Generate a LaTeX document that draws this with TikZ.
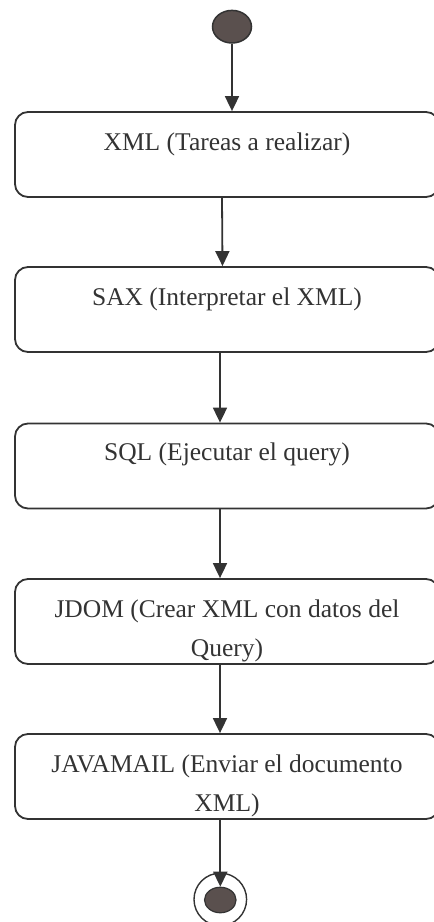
\documentclass[tikz,border=0pt]{standalone}
\usepackage{fontspec}
\setmainfont{Liberation Serif}
\usetikzlibrary{arrows.meta,shapes.geometric,calc}

\definecolor{ink}{HTML}{333333}
\definecolor{dot}{HTML}{5A504E}

\tikzset{
  activity/.style={draw=ink, line width=1.8pt, rounded corners=13pt,
    minimum width=424pt, minimum height=85pt, inner sep=0pt},
  caption/.style={text=ink, inner sep=0pt, anchor=base,
    font=\fontsize{25.5}{38.5}\selectfont},
  flow/.style={draw=ink, line width=1.8pt,
    -{Triangle[width=14pt,length=15pt]}},
  initial/.style={ellipse, draw=ink, fill=dot, line width=1.5pt,
    minimum width=39pt, minimum height=32.6pt, inner sep=0pt},
  finalring/.style={circle, draw=ink, line width=1.4pt,
    minimum size=52.6pt, inner sep=0pt},
  finaldot/.style={ellipse, draw=ink, fill=dot, line width=1.2pt,
    minimum width=31.5pt, minimum height=25.5pt, inner sep=0pt}
}

\newcommand{\twolines}[2]{\begin{tabular}[t]{@{}c@{}}#1\\#2\end{tabular}}

\begin{document}
\begin{tikzpicture}[x=1pt, y=-1pt]
  \useasboundingbox (0,0) rectangle (434,922);
  \clip (0,0) rectangle (434,922);

  % start and end markers
  \node[initial] (start) at (232,26.7) {};
  \node[finalring] (endring) at (220.3,899.4) {};
  \node[finaldot] (enddot) at (220.3,900) {};

  % activities
  \node[activity] (xml)  at (227,154.5) {};
  \node[activity] (sax)  at (227,309.5) {};
  \node[activity] (sql)  at (227,466)   {};
  \node[activity] (jdom) at (227,621.5) {};
  \node[activity] (mail) at (227,776.5) {};

  % captions, first baseline 40pt below each box top
  \node[caption] (txml)  at ($(xml.north)+(0,39)$)  {XML (Tareas a realizar)};
  \node[caption] (tsax)  at ($(sax.north)+(0,39)$)  {SAX (Interpretar el XML)};
  \node[caption] (tsql)  at ($(sql.north)+(0,38)$)  {SQL (Ejecutar el query)};
  \node[caption] (tjdom) at ($(jdom.north)+(0,39.5)$) {\twolines{JDOM (Crear XML con datos del}{Query)}};
  \node[caption] (tmail) at ($(mail.north)+(0,39.5)$) {\twolines{JAVAMAIL (Enviar el documento}{XML)}};

  % control flow
  \draw[flow] (start.south) -- (xml.north -| start);
  \draw[flow] ([xshift=-5pt]xml.south) -- ([xshift=-4.5pt]sax.north);
  \draw[flow] ([xshift=-7pt]sax.south) -- ([xshift=-7pt]sql.north);
  \draw[flow] ([xshift=-7pt]sql.south) -- ([xshift=-7pt]jdom.north);
  \draw[flow] ([xshift=-7pt]jdom.south) -- ([xshift=-7pt]mail.north);
  \draw[flow] (mail.south -| enddot) -- (enddot.north);
\end{tikzpicture}
\end{document}
